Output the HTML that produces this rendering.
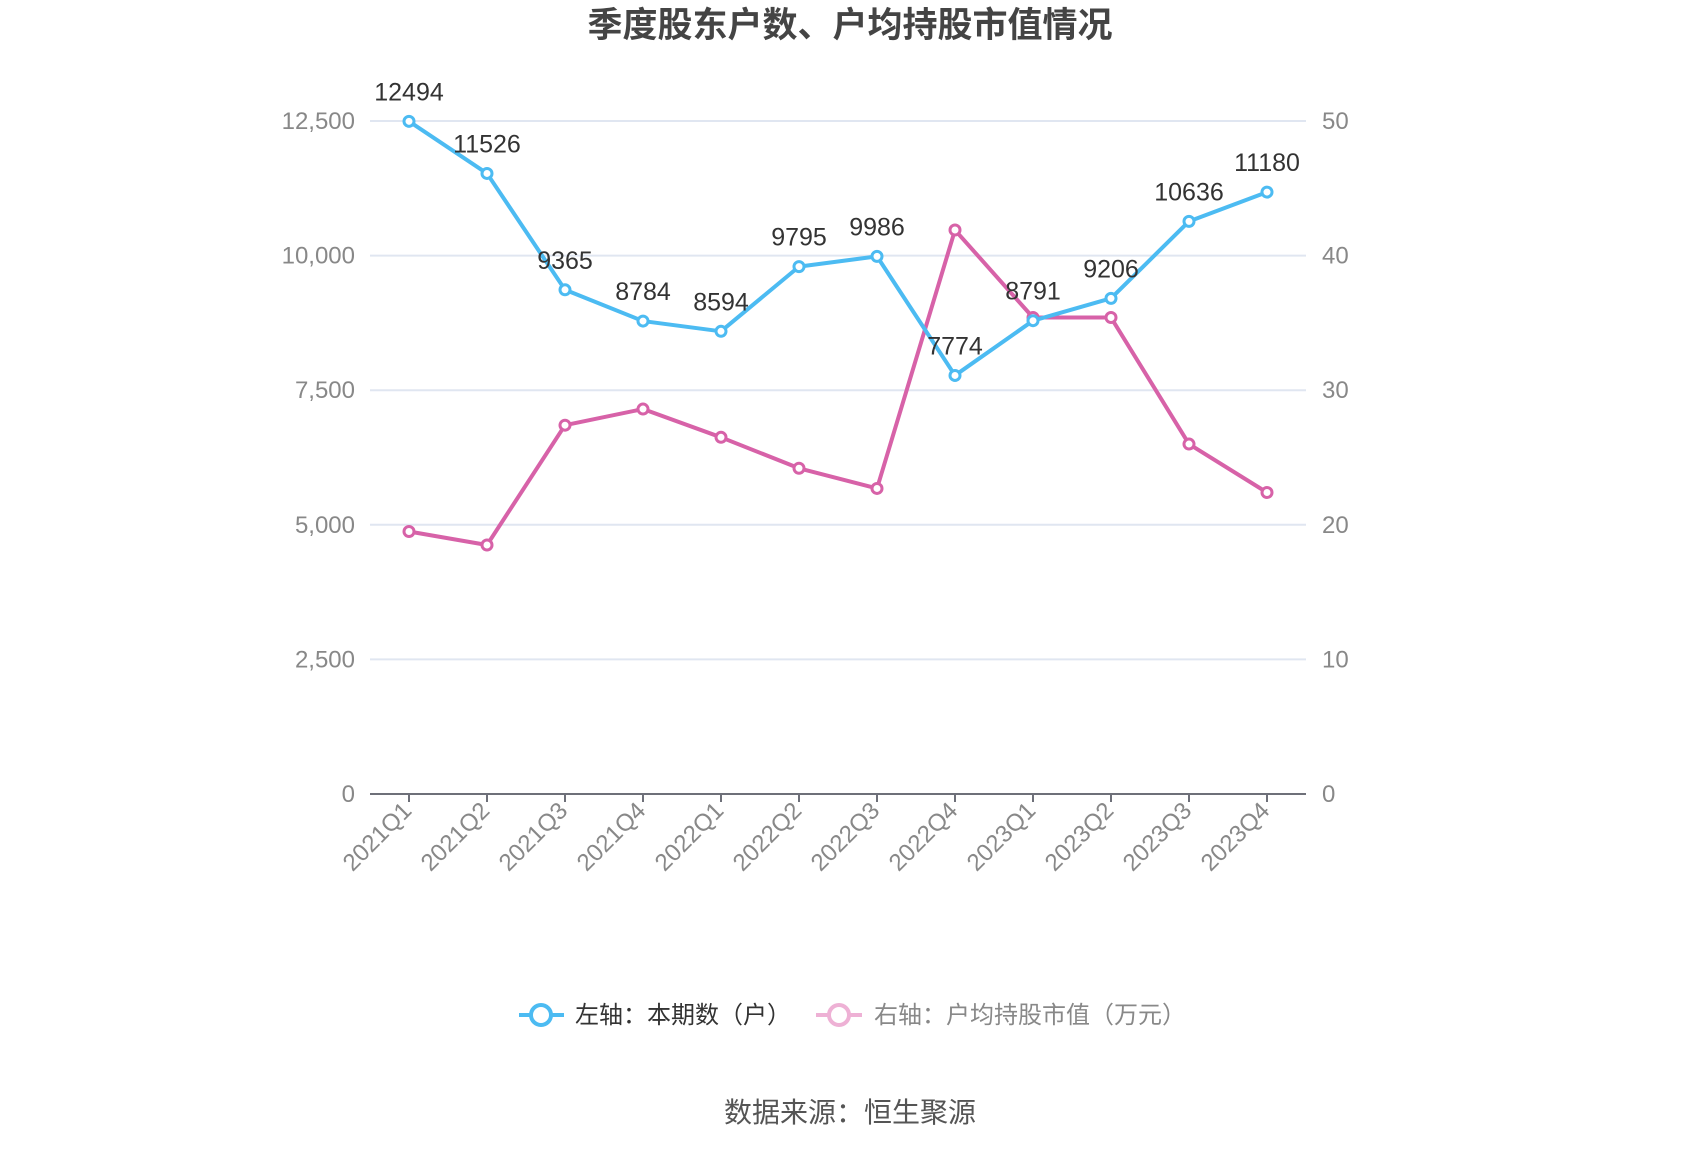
<!DOCTYPE html>
<html><head><meta charset="utf-8"><style>
body{margin:0;background:#fff;}
svg{display:block;font-family:"Liberation Sans","Noto Sans CJK SC",sans-serif;}
</style></head><body>
<svg id="chart" width="1700" height="1150" viewBox="0 0 1700 1150">
<text x="850" y="37" text-anchor="middle" font-size="35" font-weight="bold" fill="#444">季度股东户数、户均持股市值情况</text>
<g id="grid"></g><g id="axes"></g><g id="series"></g>
<g>
<g>
<line x1="519" y1="1015" x2="564" y2="1015" stroke="#4cbbf2" stroke-width="4"/>
<circle cx="541" cy="1015" r="10" fill="#fff" stroke="#4cbbf2" stroke-width="4"/>
<text x="575" y="1023" font-size="24" fill="#333">左轴：本期数（户）</text></g>
<g>
<line x1="816" y1="1015" x2="862" y2="1015" stroke="#eeb1d5" stroke-width="4"/>
<circle cx="839" cy="1015" r="10" fill="#fff" stroke="#eeb1d5" stroke-width="4"/>
<text x="874" y="1023" font-size="24" fill="#888">右轴：户均持股市值（万元）</text></g>
</g>
<text x="850" y="1122" text-anchor="middle" font-size="28" fill="#555">数据来源：恒生聚源</text>
</svg>
<script>
const categories=["2021Q1","2021Q2","2021Q3","2021Q4","2022Q1","2022Q2","2022Q3","2022Q4","2023Q1","2023Q2","2023Q3","2023Q4"];
const holders=[12494,11526,9365,8784,8594,9795,9986,7774,8791,9206,10636,11180];
const avgValue=[19.5,18.5,27.4,28.6,26.5,24.2,22.7,41.9,35.4,35.4,26.0,22.4];
const leftTicks=[0,2500,5000,7500,10000,12500];
const rightTicks=[0,10,20,30,40,50];
const NS="http://www.w3.org/2000/svg";
const X0=370,BAND=78,Y0=794,YT=121;
function x(i){return X0+BAND*(i+0.5);}
function yL(v){return Y0-(v/12500)*(Y0-YT);}
function yR(v){return Y0-(v/50)*(Y0-YT);}
function mk(tag,attrs,parent,text){const e=document.createElementNS(NS,tag);for(const k in attrs)e.setAttribute(k,attrs[k]);if(text!==undefined)e.textContent=text;parent.appendChild(e);return e;}
const grid=document.getElementById('grid'),axes=document.getElementById('axes'),ser=document.getElementById('series');
leftTicks.forEach((t,i)=>{
  if(t>0){const g=mk('line',{x1:X0,x2:1306,y1:yL(t),y2:yL(t),stroke:'#e0e6f1','stroke-width':2},grid);
  
  }
  const l=mk('text',{x:355,y:yL(t)+8,'text-anchor':'end','font-size':24,fill:'#888'},axes,t.toLocaleString('en-US'));
  
  
});
rightTicks.forEach(t=>{
  const l=mk('text',{x:1322,y:yR(t)+8,'font-size':24,fill:'#888'},axes,String(t));
  
  
});
const ax=mk('line',{x1:X0,x2:1306,y1:Y0,y2:Y0,stroke:'#6e7079','stroke-width':2},axes);


categories.forEach((c,i)=>{
  const tk=mk('line',{x1:x(i),x2:x(i),y1:Y0,y2:Y0+8,stroke:'#6e7079','stroke-width':2},axes);
  
  
  const l=mk('text',{x:x(i)+4,y:Y0+18,'text-anchor':'end','font-size':24,fill:'#888',transform:`rotate(-45 ${x(i)+4} ${Y0+18})`},axes,c);
  
  
});
function line(vals,yf,color,name){
  const p=mk('polyline',{points:vals.map((v,i)=>x(i)+','+yf(v)).join(' '),fill:'none',stroke:color,'stroke-width':4,'stroke-linejoin':'round'},ser);
  
  
  vals.forEach((v,i)=>{
    const c=mk('circle',{cx:x(i),cy:yf(v),r:5,fill:'#fff',stroke:color,'stroke-width':3},ser);
    
    
  });
}
line(avgValue,yR,'#d762a8','avg-value');
line(holders,yL,'#4cbbf2','holders');
holders.forEach((v,i)=>{
  const l=mk('text',{x:x(i),y:yL(v)-21,'text-anchor':'middle','font-size':25,fill:'#333'},ser,String(v));
  
  
});
</script>
</body></html>
